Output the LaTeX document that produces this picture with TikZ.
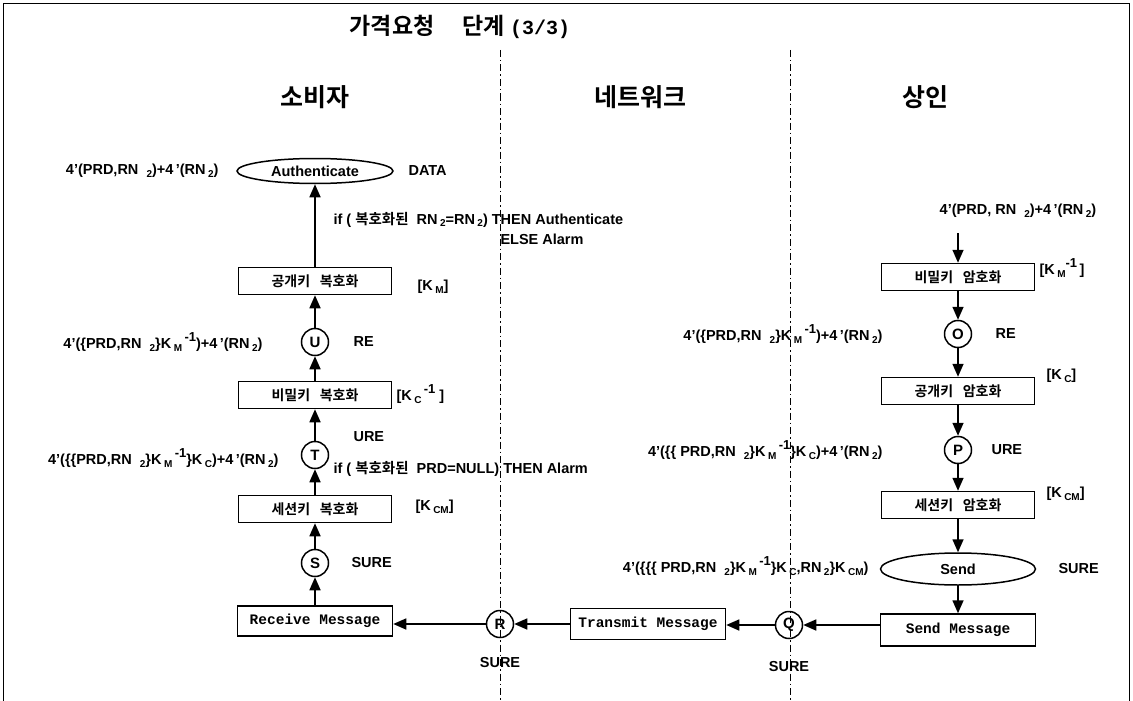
\documentclass[tikz,border=0pt]{standalone}
\usepackage{fontspec}
\setmainfont{Liberation Sans}
\newfontfamily\kr{Noto Sans CJK KR}[BoldFont={Noto Sans CJK KR Bold}]
\newfontfamily\mono{Liberation Mono}
\usetikzlibrary{arrows.meta,shapes.geometric}
\newcommand\lo[1]{\raisebox{-0.3ex}{\fontsize{10}{10}\selectfont #1}}
\newcommand\hi[1]{\raisebox{1.0ex}{\fontsize{13}{13}\selectfont #1}}
\begin{document}
\begin{tikzpicture}[x=1pt,y=-1pt,
  every node/.style={font=\fontsize{14.5}{16}\selectfont\bfseries},
  proc/.style={draw,line width=1.5pt,minimum width=153pt,minimum height=27pt,inner sep=0pt,font=\fontsize{14}{16}\selectfont\kr\bfseries},
  msg/.style={draw,line width=1.5pt,minimum width=155pt,minimum height=30pt,inner sep=0pt,font=\fontsize{14.5}{16}\selectfont\mono\bfseries},
  place/.style={draw,circle,line width=1.5pt,minimum size=27pt,inner sep=0pt,font=\fontsize{15}{16}\selectfont\bfseries},
  oval/.style={draw,ellipse,line width=1.5pt,minimum width=156pt,minimum height=25pt,inner sep=0pt},
  lane/.style={line width=1pt,dash pattern=on 7pt off 3pt on 1.5pt off 3pt},
  arr/.style={line width=1.6pt,-{Triangle[length=13pt,width=11pt]}},
  hdr/.style={font=\fontsize{25}{28}\selectfont\kr\bfseries}]
\useasboundingbox (0,0) rectangle (1133,701);
\draw[line width=0.8pt] (3,701) -- (3,3) -- (1129,3) -- (1129,701);
% title and headers
\node (title) at (460,27) {\fontsize{23}{26}\selectfont\kr\bfseries 가격요청\quad\ 단계 {\mono\bfseries\fontsize{20}{24}\selectfont (3/3)}};
\node[hdr] (h1) at (315,97) {소비자};
\node[hdr] (h2) at (640,97) {네트워크};
\node[hdr] (h3) at (925,97) {상인};
\coordinate (l1t) at (500,50); \coordinate (l1b) at (500,701);
\coordinate (l2t) at (790,50); \coordinate (l2b) at (790,701);
\draw[lane] (l1t) -- (l1b);
\draw[lane] (l2t) -- (l2b);
% consumer column
\node[oval] (auth) at (315,171) {Authenticate};
\node[anchor=east] (la) at (222,171) {4'(PRD,RN\ \ \lo{2})+4\,'(RN\,\lo{2})};
\node[anchor=west] (data) at (405,171) {DATA};
\node[anchor=west] (cond1) at (330,220) {if ( {\kr\bfseries 복호화된}\ \ RN\,\lo{2}=RN\,\lo{2}) THEN Authenticate};
\node[anchor=west] (cond1b) at (497,239) {ELSE Alarm};
\node[proc] (pubdec) at (315,281) {공개키\ \ \ 복호화};
\node[anchor=west] (km) at (414,287) {[K\,\lo{M}]};
\node[place] (U) at (315,342) {U};
\node[anchor=east] (lu) at (266,342) {4'(\{PRD,RN\ \ \lo{2}\}K\,\lo{M}\,\hi{-1})+4\,'(RN\,\lo{2})};
\node[anchor=west] (re1) at (350,342) {RE};
\node[proc] (privdec) at (315,395) {비밀키\ \ \ 복호화};
\node[anchor=west] (kcinv) at (393,394) {[K\,\lo{C}\,\hi{-1}\ ]};
\node[place] (T) at (315,455) {T};
\node[anchor=west] (ure1) at (350,437) {URE};
\node[anchor=east] (lt) at (282,458) {4'(\{\{PRD,RN\ \ \lo{2}\}K\,\lo{M}\,\hi{-1}\}K\,\lo{C})+4\,'(RN\,\lo{2})};
\node[anchor=west] (cond2) at (330,469) {if ( {\kr\bfseries 복호화된}\ \ PRD=NULL) THEN Alarm};
\node[proc] (sesdec) at (315,509) {세션키\ \ \ 복호화};
\node[anchor=west] (kcm1) at (412,507) {[K\,\lo{CM}]};
\node[place] (S) at (315,563) {S};
\node[anchor=west] (sure1) at (348,563) {SURE};
\node[msg] (recv) at (315,621) {Receive Message};
% network
\node[place] (R) at (500,624) {R};
\node (sureR) at (500,663) {SURE};
\node[msg,minimum height=31pt] (trans) at (648,624) {Transmit Message};
\node[place] (Q) at (789,625) {Q};
\node (sureQ) at (789,667) {SURE};
% merchant column
\node (ltop) at (1018,211) {4'(PRD, RN\ \ \lo{2})+4\,'(RN\,\lo{2})};
\coordinate (start) at (958,233);
\node[proc] (privenc) at (958,277) {비밀키\ \ \ 암호화};
\node[anchor=west] (kminv) at (1036,268) {[K\,\lo{M}\hi{-1}\,]};
\node[place] (O) at (958,334) {O};
\node[anchor=east] (lo) at (886,334) {4'(\{PRD,RN\ \ \lo{2}\}K\,\lo{M}\,\hi{-1})+4\,'(RN\,\lo{2})};
\node[anchor=west] (re2) at (992,334) {RE};
\node[proc] (pubenc) at (958,391) {공개키\ \ \ 암호화};
\node[anchor=west] (kc) at (1043,376) {[K\,\lo{C}]};
\node[place] (P) at (958,450) {P};
\node[anchor=east] (lp) at (886,450) {4'(\{\{ PRD,RN\ \ \lo{2}\}K\,\lo{M}\,\hi{-1}\}K\,\lo{C})+4\,'(RN\,\lo{2})};
\node[anchor=west] (ure2) at (988,450) {URE};
\node[proc] (sesenc) at (958,505) {세션키\ \ \ 암호화};
\node[anchor=west] (kcm2) at (1043,494) {[K\,\lo{CM}]};
\node[oval,minimum width=155pt,minimum height=32pt] (send) at (958,569) {Send};
\node[anchor=west] (sure2) at (1055,569) {SURE};
\node[anchor=east] (ls) at (872,566) {4'(\{\{\{ PRD,RN\ \ \lo{2}\}K\,\lo{M}\,\hi{-1}\}K\,\lo{C},RN\,\lo{2}\}K\,\lo{CM})};
\node[msg,minimum height=32pt] (sendmsg) at (958,630) {Send Message};
% connectors
\draw[arr] (pubdec) -- (auth);
\draw[arr] (U) -- (pubdec);
\draw[arr] (privdec) -- (U);
\draw[arr] (T) -- (privdec);
\draw[arr] (sesdec) -- (T);
\draw[arr] (S) -- (sesdec);
\draw[arr] (recv) -- (S);
\draw[arr] (R) -- (recv.east |- R);
\draw[arr] (trans.west |- R) -- (R);
\draw[arr] (Q) -- (trans.east |- Q);
\draw[arr] (sendmsg.west |- Q) -- (Q);
\draw[arr] (start) -- (privenc);
\draw[arr] (privenc) -- (O);
\draw[arr] (O) -- (pubenc);
\draw[arr] (pubenc) -- (P);
\draw[arr] (P) -- (sesenc);
\draw[arr] (sesenc) -- (send);
\draw[arr] (send) -- (sendmsg);
\end{tikzpicture}
\end{document}
